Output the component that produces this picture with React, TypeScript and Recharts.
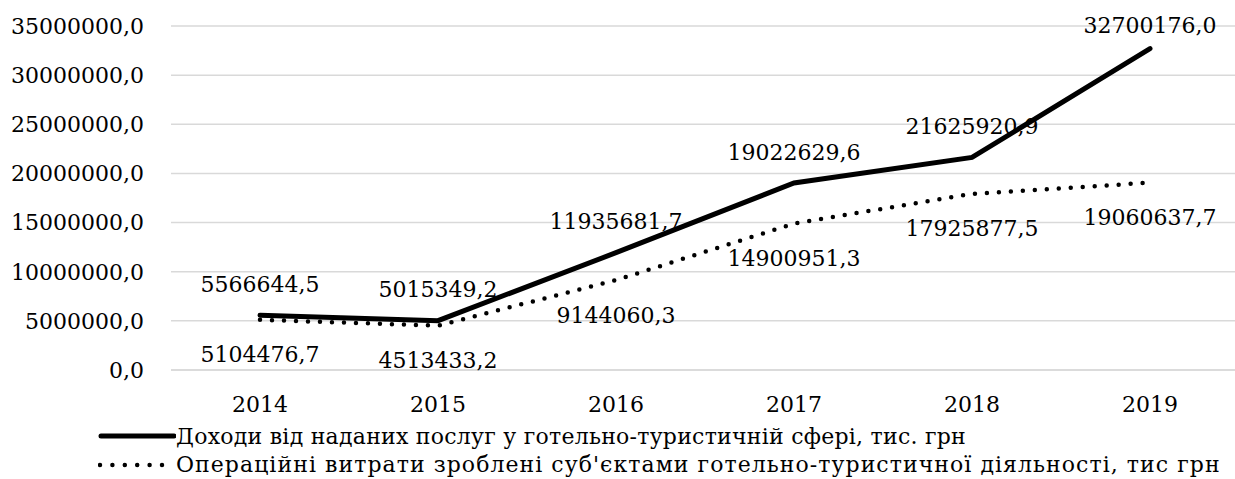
import React from "react"
import {
  LineChart,
  Line,
  XAxis,
  YAxis,
  CartesianGrid,
  LabelList,
} from "recharts"

const years = ["2014", "2015", "2016", "2017", "2018", "2019"]
const income = [5566644.5, 5015349.2, 11935681.7, 19022629.6, 21625920.9, 32700176.0]
const costs = [5104476.7, 4513433.2, 9144060.3, 14900951.3, 17925877.5, 19060637.7]
const yTicks = [0, 5000000, 10000000, 15000000, 20000000, 25000000, 30000000, 35000000]

const incomeName = "Доходи від наданих послуг у готельно-туристичній сфері, тис. грн"
const costsName = "Операційні витрати зроблені суб'єктами готельно-туристичної діяльності, тис грн"

const FONT = "'DejaVu Serif', serif"

const data = years.map((year, i) => ({ year, income: income[i], costs: costs[i] }))

const fmt = (v: number) => Number(v).toFixed(1).replace(".", ",")

const AboveLabel = (props: any) => {
  const { x, y, value } = props
  return (
    <text
      x={x}
      y={Math.max(y - 31, 25)}
      textAnchor="middle"
      dominantBaseline="central"
      fontFamily={FONT}
      fontSize={22}
      fill="#000"
    >
      {fmt(value)}
    </text>
  )
}

const BelowLabel = (props: any) => {
  const { x, y, value } = props
  return (
    <text
      x={x}
      y={y + 35}
      textAnchor="middle"
      dominantBaseline="central"
      fontFamily={FONT}
      fontSize={22}
      fill="#000"
    >
      {fmt(value)}
    </text>
  )
}

export default function App() {
  return (
    <div
      style={{
        position: "fixed",
        left: 0,
        top: 0,
        width: 1235,
        height: 479,
        overflow: "hidden",
        background: "#fff",
        fontFamily: FONT,
      }}
    >
      <LineChart
        width={1240}
        height={479}
        data={data}
        margin={{ top: 26, right: 1, bottom: 0, left: 0 }}
      >
        <CartesianGrid vertical={false} stroke="#d9d9d9" strokeWidth={1.5} />
        <XAxis
          dataKey="year"
          padding={{ left: 89, right: 89 }}
          axisLine={{ stroke: "#d9d9d9", strokeWidth: 1.5 }}
          tickLine={false}
          tickSize={0}
          tickMargin={26}
          height={109}
          tick={{ fontFamily: FONT, fontSize: 22, fill: "#000" }}
        />
        <YAxis
          domain={[0, 35000000]}
          ticks={yTicks}
          axisLine={false}
          tickLine={false}
          tickSize={0}
          tickMargin={27}
          width={171}
          tickFormatter={fmt}
          tick={{ fontFamily: FONT, fontSize: 22, fill: "#000" }}
        />
        <Line
          dataKey="income"
          name={incomeName}
          stroke="#000"
          strokeWidth={5}
          strokeLinecap="round"
          dot={false}
          isAnimationActive={false}
        >
          <LabelList dataKey="income" content={AboveLabel} />
        </Line>
        <Line
          dataKey="costs"
          name={costsName}
          stroke="#000"
          strokeWidth={4.5}
          strokeDasharray="0 12"
          strokeLinecap="round"
          dot={false}
          isAnimationActive={false}
        >
          <LabelList dataKey="costs" content={BelowLabel} />
        </Line>
      </LineChart>
      <div style={{ position: "absolute", left: 98, top: 423, fontSize: 22, color: "#000", lineHeight: "28px" }}>
        <div style={{ display: "flex", alignItems: "center", height: 28 }}>
          <svg width={78} height={28}>
            <line x1={3} y1={13} x2={76} y2={13} stroke="#000" strokeWidth={5} strokeLinecap="round" />
          </svg>
          <span style={{ whiteSpace: "nowrap", letterSpacing: 0.25 }}>{incomeName}</span>
        </div>
        <div style={{ display: "flex", alignItems: "center", height: 28 }}>
          <svg width={78} height={28}>
            <line x1={2} y1={14} x2={64} y2={14} stroke="#000" strokeWidth={4.5} strokeDasharray="0 12.4" strokeLinecap="round" />
          </svg>
          <span style={{ whiteSpace: "nowrap", letterSpacing: 1.05 }}>{costsName}</span>
        </div>
      </div>
    </div>
  )
}
